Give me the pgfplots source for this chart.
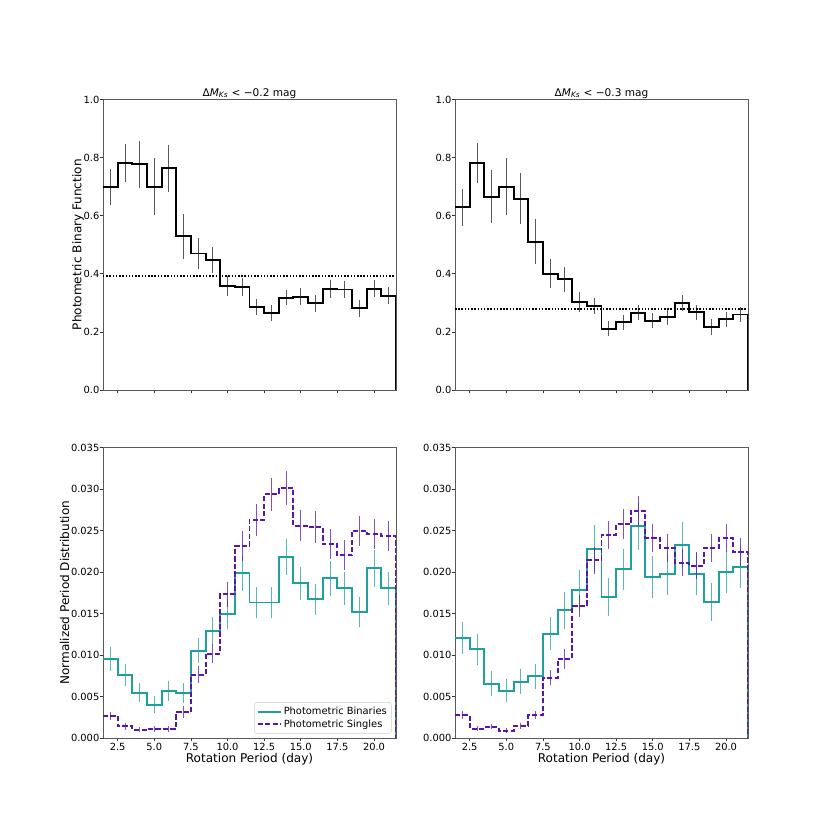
\documentclass[border=0pt]{standalone}
\usepackage{fontspec}
\setmainfont{DejaVu Sans}
\usepackage{pgfplots}
\usepackage{pgfplotstable}
\pgfplotsset{compat=1.18}

\definecolor{teal}{RGB}{32,160,156}
\definecolor{purp}{RGB}{88,22,176}

\pgfplotstableread{
x y e
2 0.699 0.061
3 0.781 0.066
4 0.777 0.082
5 0.700 0.098
6 0.764 0.081
7 0.529 0.077
8 0.470 0.052
9 0.449 0.045
10 0.357 0.035
11 0.355 0.031
12 0.286 0.029
13 0.266 0.027
14 0.318 0.027
15 0.321 0.029
16 0.298 0.029
17 0.348 0.030
18 0.346 0.030
19 0.282 0.029
20 0.349 0.030
21 0.324 0.029
22 0.324 0
22 0 0
}\tl

\pgfplotstableread{
x y e
2 0.629 0.064
3 0.781 0.069
4 0.666 0.091
5 0.700 0.099
6 0.659 0.088
7 0.511 0.077
8 0.401 0.049
9 0.381 0.043
10 0.302 0.034
11 0.290 0.028
12 0.211 0.026
13 0.233 0.026
14 0.266 0.025
15 0.238 0.026
16 0.250 0.026
17 0.299 0.028
18 0.267 0.027
19 0.216 0.027
20 0.243 0.027
21 0.260 0.027
22 0.260 0
22 0 0
}\tr

\pgfplotstableread{
x y e
2 0.00953 0.00145
3 0.00756 0.0013
4 0.00543 0.00115
5 0.00402 0.0010
6 0.00563 0.0012
7 0.00543 0.00125
8 0.01054 0.0015
9 0.01287 0.00167
10 0.01497 0.0018
11 0.01983 0.0021
12 0.01633 0.0019
13 0.01633 0.0019
14 0.02180 0.0022
15 0.01863 0.0020
16 0.01670 0.0019
17 0.01927 0.0021
18 0.01806 0.0020
19 0.01517 0.0018
20 0.02044 0.0022
21 0.01806 0.0020
22 0.01806 0
22 0 0
}\blb

\pgfplotstableread{
x y e
2 0.00266 0.0005
3 0.00141 0.0004
4 0.00101 0.0003
5 0.00113 0.00035
6 0.00113 0.00035
7 0.00310 0.0007
8 0.00764 0.0010
9 0.01018 0.0012
10 0.01730 0.0015
11 0.02310 0.0018
12 0.02630 0.0019
13 0.02937 0.0020
14 0.03013 0.0020
15 0.02559 0.0019
16 0.02543 0.0019
17 0.02333 0.0018
18 0.02201 0.0018
19 0.02494 0.0018
20 0.02458 0.0018
21 0.02434 0.0018
22 0.02434 0
22 0 0
}\bls

\pgfplotstableread{
x y e
2 0.01207 0.00195
3 0.01070 0.00185
4 0.00656 0.0015
5 0.00571 0.0014
6 0.00680 0.0015
7 0.00744 0.0015
8 0.01259 0.0020
9 0.01537 0.0022
10 0.01782 0.0024
11 0.02281 0.0028
12 0.01698 0.0023
13 0.02032 0.0025
14 0.02551 0.0028
15 0.01943 0.0025
16 0.01971 0.0025
17 0.02329 0.0027
18 0.01975 0.0025
19 0.01641 0.0023
20 0.02000 0.0025
21 0.02060 0.0025
22 0.02060 0
22 0 0
}\brb

\pgfplotstableread{
x y e
2 0.00274 0.0005
3 0.00113 0.0003
4 0.00133 0.0003
5 0.00085 0.0003
6 0.00145 0.0004
7 0.00274 0.0005
8 0.00724 0.0009
9 0.00957 0.0012
10 0.01589 0.0013
11 0.02140 0.0016
12 0.02446 0.0017
13 0.02575 0.0018
14 0.02740 0.0018
15 0.02414 0.0017
16 0.02289 0.0017
17 0.02112 0.0016
18 0.02076 0.0016
19 0.02289 0.0017
20 0.02410 0.0017
21 0.02241 0.0017
22 0.02241 0
22 0 0
}\brs

\newcommand{\tickfont}{\fontsize{8.6}{10}\selectfont}
\newcommand{\labfont}{\fontsize{10.5}{12}\selectfont}

\pgfplotsset{
  panel/.style={
    scale only axis, anchor=south west,
    width=255.1pt, height=252.9pt,
    xmin=1.5, xmax=21.5,
    xtick={2.5,5,7.5,10,12.5,15,17.5,20},
    tick align=outside, tick pos=left, major tick length=3pt,
    axis line style={black!65, line width=0.6pt},
    tick style={black!80, line width=0.6pt},
    ticklabel style={font=\tickfont},
    yticklabel style={inner sep=0pt},
    xticklabel style={inner sep=1pt},
    /pgf/number format/assume math mode=true,
    xticklabel style={/pgf/number format/.cd, fixed, fixed zerofill, precision=1},
    label style={font=\labfont},
    title style={font=\fontsize{9.2}{11}\selectfont, at={(0.5,1)}, anchor=base, yshift=-3pt},
    legend image code/.code={\draw[##1] (0cm,0cm) -- (0.7cm,0cm);},
  },
  toppanel/.style={
    panel, ymin=0, ymax=1, ytick={0,0.2,0.4,0.6,0.8,1},
    yticklabel style={/pgf/number format/.cd, fixed, fixed zerofill, precision=1},
    xticklabels={},
  },
  botpanel/.style={
    panel, ymin=0, ymax=0.035,
    ytick={0,0.005,0.01,0.015,0.02,0.025,0.03,0.035},
    scaled y ticks=false,
    yticklabel style={/pgf/number format/.cd, fixed, fixed zerofill, precision=3},
    xlabel={Rotation Period (day)},
    xlabel style={at={(axis description cs:0.5,0)}, anchor=north, yshift=-10pt},
  },
  stepline/.style={const plot mark left, line width=1.7pt},
  ebar/.style={draw=none, mark=none, forget plot,
    error bars/.cd, y dir=both, y explicit, error mark=none,
    error bar style={line width=0.8pt, #1}},
}

\begin{document}
\begin{tikzpicture}
\path (0,0) rectangle (722.7pt,722.7pt);

% top left
\begin{axis}[toppanel, at={(89.68pt,383.1pt)},
  ylabel={Photometric Binary Function},
  ylabel style={at={(axis description cs:-0.0516,0.5)}, anchor=south},
  title={Δ\textit{M}\textsubscript{\textit{Ks}} < −0.2 mag}]
\addplot[stepline, black] table[x expr=\thisrow{x}-0.5, y=y] {\tl};
\addplot[ebar={black, opacity=0.65}] table[x=x, y=y, y error=e] {\tl};
\addplot[black, line width=1.4pt, dash pattern=on 1.3pt off 1.5pt] coordinates {(1.5,0.393) (21.5,0.393)};
\end{axis}

% top right
\begin{axis}[toppanel, at={(396.2pt,383.1pt)},
  title={Δ\textit{M}\textsubscript{\textit{Ks}} < −0.3 mag}]
\addplot[stepline, black] table[x expr=\thisrow{x}-0.5, y=y] {\tr};
\addplot[ebar={black, opacity=0.65}] table[x=x, y=y, y error=e] {\tr};
\addplot[black, line width=1.4pt, dash pattern=on 1.3pt off 1.5pt] coordinates {(1.5,0.278) (21.5,0.278)};
\end{axis}

% bottom left
\begin{axis}[botpanel, at={(89.68pt,80.1pt)},
  ylabel={Normalized Period Distribution},
  ylabel style={at={(axis description cs:-0.101,0.5)}, anchor=south},
  legend style={at={(0.985,0.015)}, anchor=south east, draw=black!20,
    rounded corners=2pt, font=\tickfont, inner sep=2pt, row sep=-1pt},
  legend cell align=left]
\addplot[stepline, teal] table[x expr=\thisrow{x}-0.5, y=y] {\blb};
\addlegendentry{Photometric Binaries}
\addplot[stepline, purp, dash pattern=on 4.5pt off 2pt] table[x expr=\thisrow{x}-0.5, y=y] {\bls};
\addlegendentry{Photometric Singles}
\addplot[ebar={teal, opacity=0.75}] table[x=x, y=y, y error=e] {\blb};
\addplot[ebar={purp, opacity=0.75}] table[x=x, y=y, y error=e] {\bls};
\end{axis}

% bottom right
\begin{axis}[botpanel, at={(396.2pt,80.1pt)}]
\addplot[stepline, teal] table[x expr=\thisrow{x}-0.5, y=y] {\brb};
\addplot[stepline, purp, dash pattern=on 4.5pt off 2pt] table[x expr=\thisrow{x}-0.5, y=y] {\brs};
\addplot[ebar={teal, opacity=0.75}] table[x=x, y=y, y error=e] {\brb};
\addplot[ebar={purp, opacity=0.75}] table[x=x, y=y, y error=e] {\brs};
\end{axis}
\end{tikzpicture}
\end{document}
